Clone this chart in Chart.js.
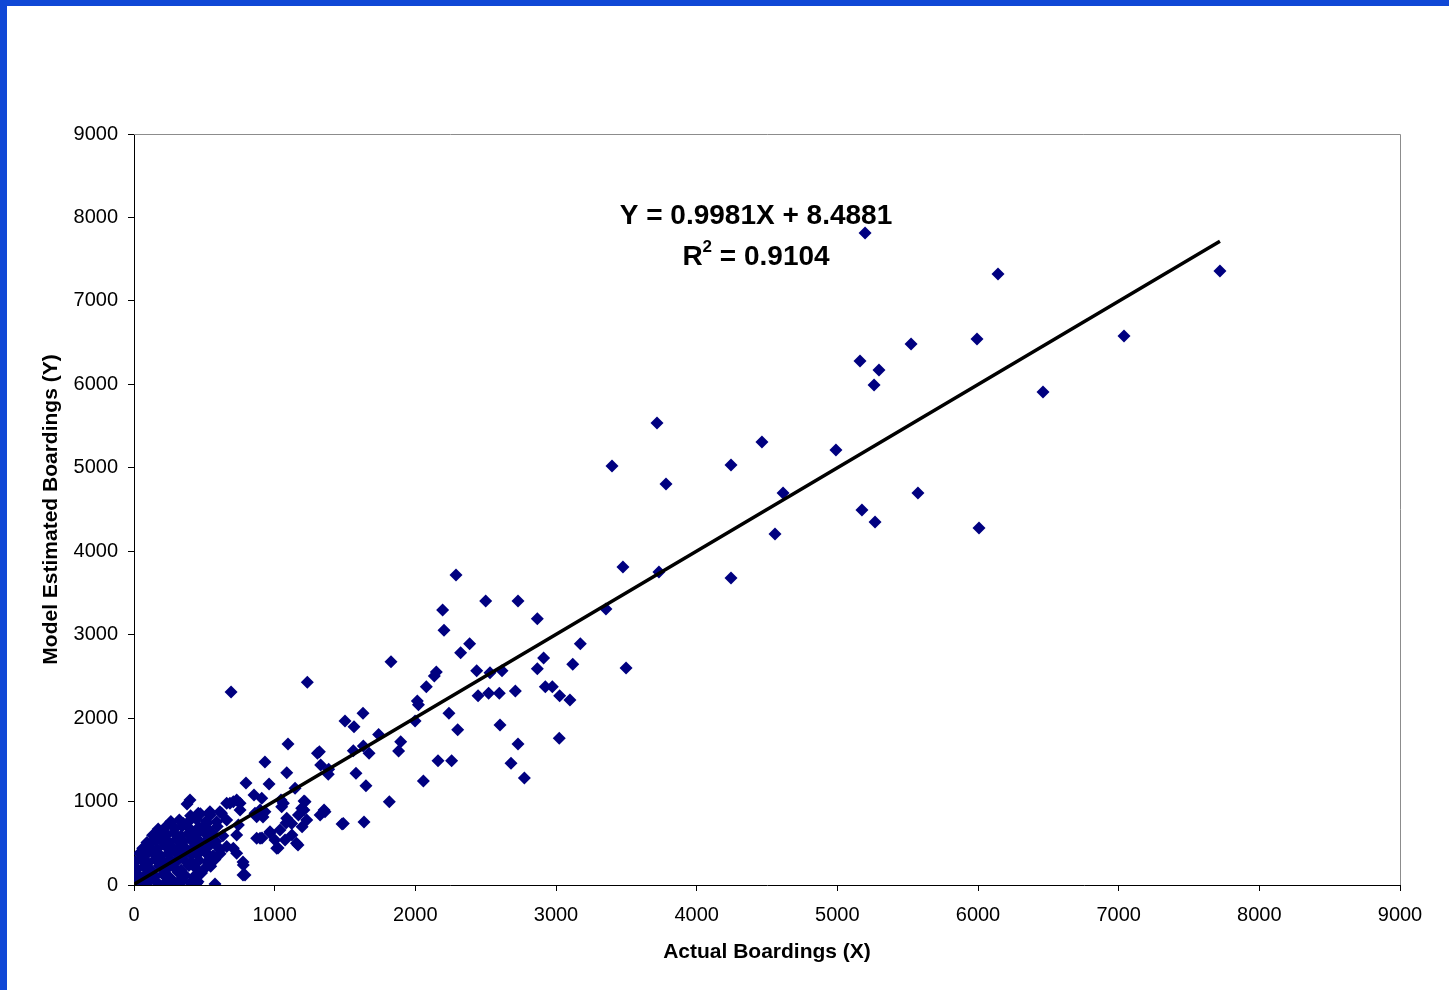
<!DOCTYPE html>
<html>
<head>
<meta charset="utf-8">
<script src="https://cdn.jsdelivr.net/npm/chart.js@4"></script>
<style>
  html, body { margin: 0; padding: 0; }
  body { width: 1449px; height: 990px; background: #1048d6; position: relative; overflow: hidden; }
  #frame { position: absolute; left: 7px; top: 6px; width: 1442px; height: 984px; background: #fff; }
</style>
</head>
<body>
<div id="frame"><canvas id="boardingsChart"></canvas></div>
<script>
// axes
const axisMin = 0;
const axisMax = 9000;
const tickStep = 1000;

// regression shown on the slide
const trendSlope = 0.9981;
const trendIntercept = 8.4881;
const trendMaxX = 7720;
const equationLabel = 'Y = 0.9981X + 8.4881';
const r2Label = '0.9104';

// [actual, model] - large stations
const highStations = [
    [5197, 7814], [6142, 7323], [7720, 7359], [7038, 6580], [5993, 6544], [5524, 6484],
    [5161, 6280], [5296, 6172], [5261, 5992], [6462, 5908], [3718, 5537], [4464, 5309],
    [4990, 5213], [3398, 5022], [4244, 5034], [3782, 4806], [4614, 4698], [5573, 4698],
    [5175, 4494], [5268, 4350], [6007, 4279], [4557, 4207], [3476, 3811], [3732, 3751],
    [4244, 3679], [2289, 3715], [3355, 3308], [3498, 2601]
];

// mid-size stations
const midStations = [
    [1232, 2429], [2500, 3404], [2730, 3404], [2194, 3296], [2204, 3052], [2867, 3191],
    [2386, 2892], [2322, 2784], [1827, 2676], [3173, 2892], [2912, 2720], [2867, 2592],
    [3119, 2644], [2616, 2567], [2531, 2543], [2436, 2567], [2149, 2553], [2135, 2505],
    [2078, 2377], [2014, 2205], [2022, 2161], [1998, 1966], [2446, 2269], [2521, 2297],
    [2597, 2297], [2711, 2325], [2924, 2377], [2974, 2377], [3026, 2269], [3099, 2217],
    [2239, 2058], [2301, 1862], [2602, 1918], [2730, 1690], [3023, 1758], [2680, 1458],
    [2775, 1282], [2161, 1488], [2258, 1488], [2057, 1246], [1815, 998], [1500, 1966],
    [1564, 1897], [1628, 2058], [1739, 1805], [1896, 1718], [1881, 1606], [1559, 1609],
    [1630, 1666], [1671, 1578], [1318, 1597], [1304, 1578], [1327, 1438], [1384, 1386],
    [1381, 1327], [1578, 1338], [1649, 1190], [1209, 1007], [1351, 899], [1323, 839]
];

// small stations
const smallStations = [
    [690, 2313], [1095, 1690], [931, 1474], [1086, 1346], [796, 1222], [960, 1210],
    [1145, 1159], [1479, 731], [1635, 755], [1045, 1019], [1216, 998], [1208, 899],
    [853, 1079], [896, 899], [917, 815], [910, 563], [1024, 443], [1123, 599],
    [1166, 479], [967, 623], [1081, 743], [775, 276], [775, 120], [576, 12],
    [398, 1019], [377, 971], [908, 1039], [706, 998], [754, 979], [1062, 979],
    [1050, 939], [931, 878], [860, 859], [1192, 919], [1358, 878], [1488, 738],
    [1086, 799], [1169, 839], [1121, 738], [1228, 779], [1038, 659], [1195, 699],
    [967, 639], [896, 560], [1002, 540], [1074, 540], [1155, 499], [1015, 439],
    [777, 240], [706, 439], [730, 599], [659, 779], [659, 979], [754, 899],
    [742, 719], [457, 859], [540, 878], [611, 878], [682, 979], [730, 1019],
    [208, 659], [279, 699], [351, 738], [517, 738], [588, 759], [872, 819],
    [872, 560], [789, 120], [730, 380], [659, 460], [446, 20], [327, 60],
    [232, 40], [66, 40], [38, 380], [109, 420], [161, 540], [446, 560],
    [422, 380], [540, 340], [611, 420]
];

// dense group near the origin
const originCluster = [
    [15, 25], [60, 10], [110, 45], [170, 20], [230, 35], [290, 15], [345, 50], [400, 25], [455, 40],
    [8, 120], [45, 95], [95, 140], [150, 105], [205, 130], [255, 90], [315, 150], [365, 115], [425, 100], [480, 145],
    [22, 190], [70, 220], [125, 175], [180, 230], [235, 195], [285, 210], [335, 180], [390, 235], [440, 200], [495, 185], [545, 225],
    [12, 280], [55, 305], [100, 265], [150, 310], [210, 275], [262, 300], [305, 285], [352, 310], [410, 270], [462, 295], [520, 280], [575, 305],
    [85, 360], [135, 385], [190, 350], [240, 375], [292, 395], [342, 355], [398, 380], [452, 365], [508, 390], [562, 350], [612, 375],
    [62, 440], [112, 455], [165, 430], [222, 470], [272, 445], [322, 460], [372, 430], [432, 465], [482, 440], [535, 470], [600, 450],
    [92, 510], [142, 540], [198, 525], [252, 505], [302, 550], [352, 520], [405, 540], [462, 510], [522, 545], [582, 520],
    [132, 595], [182, 620], [232, 600], [282, 630], [335, 590], [385, 615], [442, 600], [502, 625], [562, 605], [632, 590],
    [172, 670], [228, 700], [292, 680], [342, 705], [402, 665], [462, 695], [522, 675], [592, 700],
    [262, 760], [322, 780], [382, 750], [442, 790], [512, 765],
    [402, 830], [472, 855], [542, 840], [622, 860]
];

const allStations = [...highStations, ...midStations, ...smallStations, ...originCluster];

const FONT = '"Liberation Sans", Arial, sans-serif';

// gray frame on top/right + regression text
const slideDecor = {
    id: 'slideDecor',
    beforeDatasetsDraw(chart) {
        const { ctx, chartArea: a } = chart;
        ctx.save();
        ctx.strokeStyle = '#8c8c8c';
        ctx.lineWidth = 1;
        ctx.beginPath();
        ctx.moveTo(a.left, a.top + 0.5);
        ctx.lineTo(a.right + 0.5, a.top + 0.5);
        ctx.lineTo(a.right + 0.5, a.bottom);
        ctx.stroke();
        ctx.restore();
    },
    afterDatasetsDraw(chart) {
        const { ctx } = chart;
        const cx = 749;
        const big = 'bold 28px ' + FONT;
        const small = 'bold 17px ' + FONT;
        ctx.save();
        ctx.fillStyle = '#000';
        ctx.textBaseline = 'middle';
        ctx.textAlign = 'center';
        ctx.font = big;
        ctx.fillText(equationLabel, cx, 210);

        // R² line with superscript
        ctx.font = big;
        const wR = ctx.measureText('R').width;
        const wRest = ctx.measureText(' = ' + r2Label).width;
        ctx.font = small;
        const w2 = ctx.measureText('2').width;
        let x = cx - (wR + w2 + wRest) / 2;
        ctx.textAlign = 'left';
        ctx.font = big;
        ctx.fillText('R', x, 251);
        x += wR;
        ctx.font = small;
        ctx.fillText('2', x, 241);
        x += w2;
        ctx.font = big;
        ctx.fillText(' = ' + r2Label, x, 251);
        ctx.restore();
    }
};

new Chart(document.getElementById('boardingsChart'), {
    type: 'scatter',
    data: {
        datasets: [{
            label: 'Trend',
            type: 'line',
            data: [
                { x: 0, y: trendIntercept },
                { x: trendMaxX, y: trendSlope * trendMaxX + trendIntercept }
            ],
            borderColor: '#000',
            borderWidth: 3.5,
            pointRadius: 0,
            fill: false,
            tension: 0
        }, {
            label: 'Stations',
            data: allStations.map(p => ({ x: p[0], y: p[1] })),
            pointStyle: 'rectRot',
            pointRadius: 6.5,
            backgroundColor: '#000080',
            borderColor: '#000080',
            borderWidth: 0
        }]
    },
    options: {
        responsive: true,
        maintainAspectRatio: false,
        animation: false,
        events: [],
        layout: { padding: { top: 128, right: 49, left: 0, bottom: 0 } },
        plugins: {
            legend: { display: false },
            tooltip: { enabled: false }
        },
        scales: {
            x: {
                type: 'linear',
                min: axisMin,
                max: axisMax,
                afterFit: (scale) => { scale.height = 105; },
                border: { color: '#000', width: 1 },
                grid: { drawOnChartArea: false, tickLength: 6, color: '#000' },
                ticks: {
                    stepSize: tickStep,
                    padding: 12,
                    color: '#000',
                    font: { family: FONT, size: 20 },
                    callback: (v) => String(v)
                },
                title: {
                    display: true,
                    text: 'Actual Boardings (X)',
                    color: '#000',
                    padding: { top: 0, bottom: 25 },
                    font: { family: FONT, size: 21, weight: 'bold' }
                }
            },
            y: {
                type: 'linear',
                min: axisMin,
                max: axisMax,
                afterFit: (scale) => { scale.width = 127; },
                border: { color: '#000', width: 1 },
                grid: { drawOnChartArea: false, tickLength: 6, color: '#000' },
                ticks: {
                    stepSize: tickStep,
                    padding: 10,
                    color: '#000',
                    font: { family: FONT, size: 20 },
                    callback: (v) => String(v)
                },
                title: {
                    display: true,
                    text: 'Model Estimated Boardings (Y)',
                    color: '#000',
                    padding: { top: 32, bottom: 0 },
                    font: { family: FONT, size: 21, weight: 'bold' }
                }
            }
        }
    },
    plugins: [slideDecor]
});
</script>
</body>
</html>
